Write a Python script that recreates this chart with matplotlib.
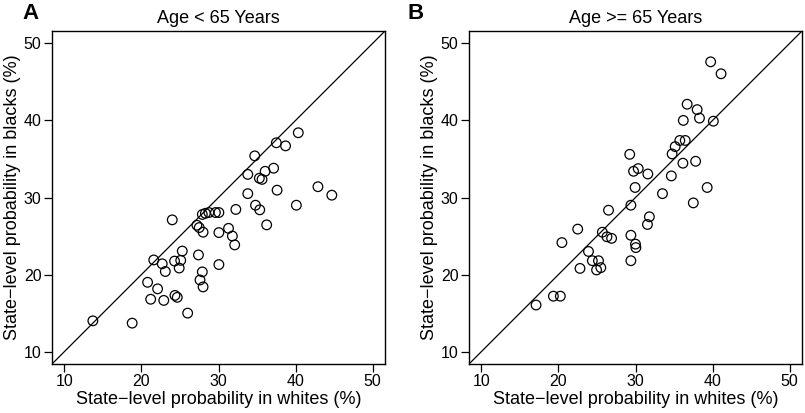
import matplotlib
matplotlib.use('Agg')
import matplotlib.pyplot as plt

plt.rcParams['font.family'] = ['Liberation Sans', 'DejaVu Sans']

# ==============================================================
# DADOS - painel A (idade < 65)
# ==============================================================
brancos_a = [13.7, 18.8, 20.8, 21.2, 21.6, 22.1, 22.7, 22.9, 23.1, 24.0,
             24.3, 24.35, 24.65, 24.9, 25.1, 25.3, 26.0, 27.2, 27.5, 27.4,
             27.6, 27.9, 28.0, 28.0, 27.9, 28.3, 28.75, 29.6, 30.05, 30.05,
             30.05, 31.3, 31.8, 32.1, 32.25, 33.8, 33.8, 34.7, 34.8, 35.35,
             35.3, 35.65, 36.05, 36.25, 37.15, 37.5, 37.6, 38.7, 40.1, 40.35,
             42.9, 44.7]
negros_a = [14.0, 13.7, 19.0, 16.8, 21.9, 18.15, 21.4, 16.65, 20.4, 27.1,
            21.75, 17.3, 17.05, 20.85, 21.85, 23.05, 15.0, 26.4, 26.1, 22.55,
            19.3, 20.35, 18.4, 25.5, 27.8, 27.95, 28.05, 28.05, 28.05, 25.45,
            21.3, 26.0, 25.0, 23.85, 28.45, 30.5, 33.0, 35.4, 29.0, 28.4,
            32.5, 32.35, 33.4, 26.45, 33.8, 37.1, 30.95, 36.7, 29.0, 38.4,
            31.4, 30.3]

# ==============================================================
# DADOS - painel B (idade >= 65)
# ==============================================================
brancos_b = [17.1, 19.35, 20.25, 20.45, 22.5, 22.8, 23.9, 24.4, 24.95, 25.2,
             25.5, 25.7, 26.3, 26.5, 26.9, 29.25, 29.4, 29.4, 29.4, 29.75,
             30.0, 30.05, 29.95, 30.35, 31.55, 31.8, 31.6, 33.5, 34.65, 34.75,
             35.15, 35.75, 36.45, 36.15, 36.2, 36.7, 37.5, 37.8, 38.0, 38.3,
             39.3, 39.75, 40.1, 41.1]
negros_b = [16.05, 17.2, 17.2, 24.15, 25.9, 20.8, 23.0, 21.8, 20.6, 21.8,
            20.9, 25.5, 24.9, 28.35, 24.7, 35.6, 29.0, 25.1, 21.8, 33.4,
            23.95, 23.5, 31.3, 33.75, 26.5, 27.5, 33.05, 30.5, 32.8, 35.65,
            36.6, 37.4, 37.4, 34.45, 40.0, 42.1, 29.3, 34.7, 41.4, 40.3,
            31.3, 47.6, 39.9, 46.05]

titulos = ['Age < 65 Years', 'Age >= 65 Years']
letras = ['A', 'B']
pos_letras = [-0.066, -0.16]
ticks = [10, 20, 30, 40, 50]
limites = (8.4, 51.6)

fig = plt.figure(figsize=(8.05, 4.13), dpi=100)
ax_a = fig.add_axes([52 / 805, 49 / 413, 333 / 805, 333 / 413])
ax_b = fig.add_axes([469 / 805, 49 / 413, 333 / 805, 333 / 413])

dados = [(brancos_a, negros_a), (brancos_b, negros_b)]

for ax, (xs, ys), titulo, letra, px in zip([ax_a, ax_b], dados, titulos,
                                           letras, pos_letras):
    ax.plot(limites, limites, color='black', lw=0.9, zorder=1)
    ax.scatter(xs, ys, s=48, facecolors='none', edgecolors='black',
               linewidths=0.9, zorder=2)
    ax.set_xlim(limites)
    ax.set_ylim(limites)
    ax.set_xticks(ticks)
    ax.set_yticks(ticks)
    ax.tick_params(direction='out', length=6, width=0.9, labelsize=11.5,
                   pad=1.5)
    for sp in ax.spines.values():
        sp.set_linewidth(1.0)
    ax.set_title(titulo, fontsize=13, pad=6)
    ax.set_xlabel('State\u2212level probability in whites (%)', fontsize=13,
                  labelpad=1)
    ax.set_ylabel('State\u2212level probability in blacks (%)', fontsize=13,
                  labelpad=2)
    ax.text(px, 1.054, letra, transform=ax.transAxes, fontsize=16,
            fontweight='bold', ha='center', va='center')

fig.savefig('out.png', dpi=100)
